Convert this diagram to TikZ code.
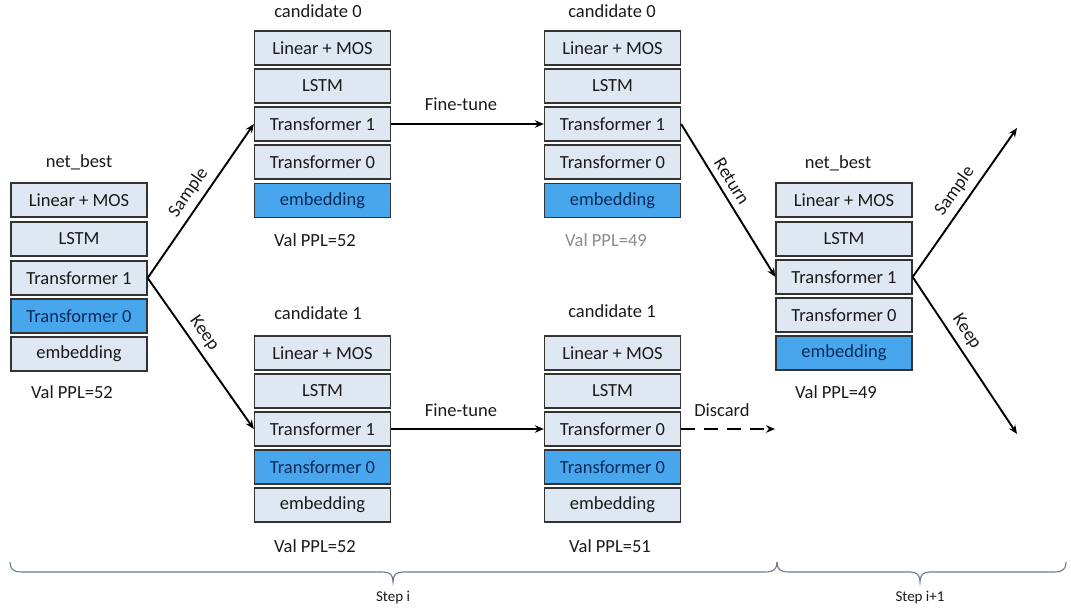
\documentclass[tikz,border=0pt]{standalone}
\usepackage{fontspec}
\setmainfont{Carlito}
\usetikzlibrary{arrows.meta}
\definecolor{boxlight}{HTML}{DEE7F2}
\definecolor{boxblue}{HTML}{48A6EC}
\definecolor{bluetext}{HTML}{0A2A5C}
\definecolor{bracecol}{HTML}{6B7B8C}
\definecolor{txtcol}{HTML}{1A1A1A}
\begin{document}
\begin{tikzpicture}[x=1pt,y=-1pt,
  layer/.style={draw=black!80, line width=1.3pt, fill=boxlight, minimum width=136pt, minimum height=34pt, inner sep=0pt, text=txtcol, font=\fontsize{18.5}{21}\selectfont},
  hl/.style={layer, fill=boxblue, text=bluetext},
  lbl/.style={text=txtcol, font=\fontsize{18.5}{21}\selectfont, inner sep=1pt},
  slab/.style={lbl, sloped, above=5pt},
  steplbl/.style={text=txtcol, font=\fontsize{15}{18}\selectfont},
  conn/.style={line width=1.9pt, draw=black, -{Stealth[length=9pt,width=7.5pt]}},
  bracepath/.style={draw=bracecol, line width=1.1pt}]
\useasboundingbox[fill=white] (0,0) rectangle (1071,610);

% left net_best
\node[lbl] (nbA) at (79,162) {net\_best};
\node[layer] (a1) at (79,200) {Linear + MOS};
\node[layer] (a2) at (79,239) {LSTM};
\node[layer] (a3) at (79,278) {Transformer 1};
\node[hl]    (a4) at (79,316) {Transformer 0};
\node[layer] (a5) at (79,354) {embedding};
\node[lbl] (vA) at (72,392) {Val PPL=52};

% candidate 0 (left)
\node[lbl] (cB) at (318,11) {candidate 0};
\node[layer] (b1) at (322.5,48) {Linear + MOS};
\node[layer] (b2) at (322.5,86) {LSTM};
\node[layer] (b3) at (322.5,124) {Transformer 1};
\node[layer] (b4) at (322.5,162) {Transformer 0};
\node[hl]    (b5) at (322.5,200.5) {embedding};
\node[lbl] (vB) at (315,240) {Val PPL=52};

% candidate 0 (fine-tuned)
\node[lbl] (cC) at (612,11) {candidate 0};
\node[layer] (c1) at (612.5,48) {Linear + MOS};
\node[layer] (c2) at (612.5,86) {LSTM};
\node[layer] (c3) at (612.5,124) {Transformer 1};
\node[layer] (c4) at (612.5,162) {Transformer 0};
\node[hl]    (c5) at (612.5,200.5) {embedding};
\node[lbl, text=black!45] (vC) at (606,240) {Val PPL=49};

% candidate 1 (left)
\node[lbl] (cD) at (318,313) {candidate 1};
\node[layer] (d1) at (322.5,353) {Linear + MOS};
\node[layer] (d2) at (322.5,391) {LSTM};
\node[layer] (d3) at (322.5,429) {Transformer 1};
\node[hl]    (d4) at (322.5,467) {Transformer 0};
\node[layer] (d5) at (322.5,505) {embedding};
\node[lbl] (vD) at (315,546) {Val PPL=52};

% candidate 1 (fine-tuned)
\node[lbl] (cE) at (612,311) {candidate 1};
\node[layer] (e1) at (612.5,353) {Linear + MOS};
\node[layer] (e2) at (612.5,391) {LSTM};
\node[layer] (e3) at (612.5,429) {Transformer 0};
\node[hl]    (e4) at (612.5,467) {Transformer 0};
\node[layer] (e5) at (612.5,505) {embedding};
\node[lbl] (vE) at (610,546) {Val PPL=51};

% right net_best
\node[lbl] (nbF) at (838,163) {net\_best};
\node[layer] (f1) at (844,200) {Linear + MOS};
\node[layer] (f2) at (844,239) {LSTM};
\node[layer] (f3) at (844,277) {Transformer 1};
\node[layer] (f4) at (844,315) {Transformer 0};
\node[hl]    (f5) at (844,353) {embedding};
\node[lbl] (vF) at (836,392) {Val PPL=49};

% free ends
\coordinate (discEnd) at (775,429);
\coordinate (sampEnd) at (1017,128);
\coordinate (keepEnd) at (1017,434);

% connectors
\draw[conn] (a3.east) -- node[slab, pos=0.5] {Sample} (b3.west);
\draw[conn] (a3.east) -- node[slab, pos=0.42] {Keep} (d3.west);
\draw[conn] (b3.east) -- (c3.west);
\node[lbl] (ft1) at (461,104) {Fine-tune};
\draw[conn] (d3.east) -- (e3.west);
\node[lbl] (ft2) at (461,410) {Fine-tune};
\draw[conn] (c3.east) -- node[slab, pos=0.42] {Return} (f3.west);
\draw[conn, dash pattern=on 14pt off 9pt] (e3.east) -- (discEnd);
\node[lbl] (disc) at (722,410) {Discard};
\draw[conn] (f3.east) -- node[slab, pos=0.52] {Sample} (sampEnd);
\draw[conn] (f3.east) -- node[slab, pos=0.4] {Keep} (keepEnd);

% braces
\draw[bracepath] (10,562) .. controls (10,569) and (13,572) .. (22,572) -- (383,572)
  .. controls (390,572) and (393,575) .. (393,582)
  .. controls (393,575) and (396,572) .. (403,572) -- (765,572)
  .. controls (774,572) and (777,569) .. (777,562);
\draw[bracepath] (777,562) .. controls (777,569) and (780,572) .. (789,572) -- (910,572)
  .. controls (917,572) and (920,575) .. (920,582)
  .. controls (920,575) and (923,572) .. (930,572) -- (1054,572)
  .. controls (1063,572) and (1066,569) .. (1066,562);
\node[steplbl] (s1) at (393,598) {Step i};
\node[steplbl] (s2) at (920,598) {Step i+1};
\end{tikzpicture}
\end{document}
